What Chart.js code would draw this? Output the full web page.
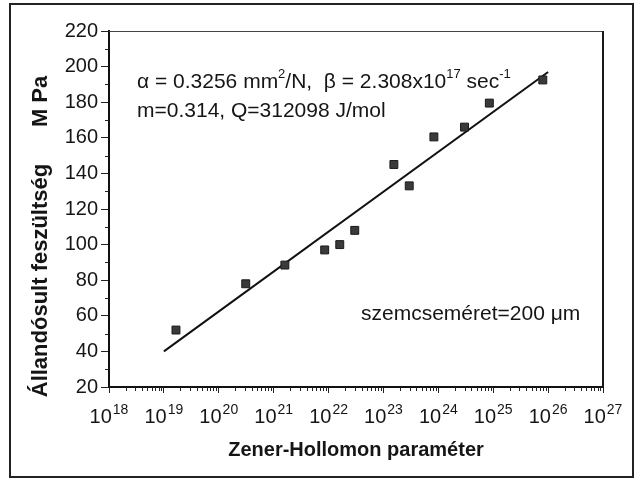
<!DOCTYPE html>
<html><head><meta charset="utf-8">
<script src="https://cdn.jsdelivr.net/npm/chart.js@4/dist/chart.umd.min.js"></script>
<style>html,body{margin:0;padding:0;background:#fff}#wrap{width:635px;height:479px;position:relative}</style>
</head><body><div id="wrap"><canvas id="c" width="635" height="479"></canvas></div>
<script>
// ---- data ----
const zenerHollomon = [1.66e19, 3.1e20, 1.6e21, 8.5e21, 1.6e22, 3.0e22, 1.55e23, 2.95e23, 8.3e23, 3.0e24, 8.5e24, 8.0e25];
const stress        = [52, 78, 88.5, 97, 100, 108, 145, 133, 160.5, 166, 179.5, 192.5];
const fitZ          = [1e19, 1e26];
const fitStress     = [40, 197];
const xExponents    = [18, 19, 20, 21, 22, 23, 24, 25, 26, 27];
const yTicks        = [20, 40, 60, 80, 100, 120, 140, 160, 180, 200, 220];
const yMinorTicks   = [30, 50, 70, 90, 110, 130, 150, 170, 190, 210];
const xTitle = 'Zener-Hollomon paraméter';
const yTitle = 'Állandósult feszültség      M Pa' + '         ';
const noteLine1 = [['α = 0.3256 mm', false], ['2', true], ['/N,  β = 2.308x10', false], ['17', true], [' sec', false], ['-1', true]];
const noteLine2 = 'm=0.314, Q=312098 J/mol';
const noteGrain = 'szemcseméret=200 μm';

const FONT = "'Liberation Sans', Arial, sans-serif";
const INK = '#151515';

const decor = {
  id: 'decor',
  beforeDraw(chart) {
    const ctx = chart.ctx;
    ctx.save();
    ctx.fillStyle = '#fff';
    ctx.fillRect(0, 0, chart.width, chart.height);
    ctx.strokeStyle = '#222';
    ctx.lineWidth = 2;
    ctx.strokeRect(10, 4, 623, 473);
    ctx.restore();
  },
  afterDraw(chart) {
    const ctx = chart.ctx, a = chart.chartArea;
    const xs = chart.scales.x, ys = chart.scales.y;
    ctx.save();
    // box top and right
    ctx.strokeStyle = '#444'; ctx.lineWidth = 1;
    ctx.beginPath(); ctx.moveTo(a.left, a.top + 0.5); ctx.lineTo(a.right, a.top + 0.5); ctx.stroke();
    ctx.strokeStyle = '#1a1a1a'; ctx.lineWidth = 2;
    ctx.beginPath(); ctx.moveTo(a.right, a.top); ctx.lineTo(a.right, a.bottom); ctx.stroke();
    // minor ticks
    ctx.strokeStyle = '#222'; ctx.lineWidth = 1;
    ctx.beginPath();
    for (let i = 0; i < xExponents.length - 1; i++) {
      for (let k = 2; k <= 9; k++) {
        const px = Math.round(xs.getPixelForValue(k * Math.pow(10, xExponents[i]))) + 0.5;
        ctx.moveTo(px, a.bottom); ctx.lineTo(px, a.bottom + 4);
      }
    }
    yMinorTicks.forEach(v => {
      const py = Math.round(ys.getPixelForValue(v)) + 0.5;
      ctx.moveTo(a.left - 4, py); ctx.lineTo(a.left, py);
    });
    ctx.stroke();
    ctx.fillStyle = INK;
    ctx.textBaseline = 'alphabetic';
    ctx.textAlign = 'left';
    // x tick labels: 10 with raised exponent, placed by the log scale
    xs.ticks.forEach(t => {
      const e = String(Math.round(Math.log10(t.value)));
      ctx.font = '20px ' + FONT; const wb = ctx.measureText('10').width;
      ctx.font = '14px ' + FONT; const we = ctx.measureText(e).width;
      const x0 = xs.getPixelForValue(t.value) - (wb + 1 + we) / 2;
      ctx.font = '20px ' + FONT; ctx.fillText('10', x0, 423);
      ctx.font = '14px ' + FONT; ctx.fillText(e, x0 + wb + 1, 414);
    });
    // annotations
    const size = 21;
    let x = 137;
    noteLine1.forEach(([t, sup]) => {
      ctx.font = (sup ? 13 : size) + 'px ' + FONT;
      ctx.fillText(t, x, sup ? 78 : 88);
      x += ctx.measureText(t).width;
    });
    ctx.font = size + 'px ' + FONT;
    ctx.fillText(noteLine2, 137, 117);
    ctx.fillText(noteGrain, 361, 320);
    ctx.restore();
  }
};

new Chart(document.getElementById('c'), {
  type: 'scatter',
  data: {
    datasets: [
      {
        data: zenerHollomon.map((z, i) => ({x: z, y: stress[i]})),
        pointStyle: 'rect', pointRadius: 5.6, backgroundColor: '#3a3a3a', borderColor: '#1a1a1a', borderWidth: 1,
        showLine: false
      },
      {
        data: fitZ.map((z, i) => ({x: z, y: fitStress[i]})),
        showLine: true, pointRadius: 0, borderColor: '#111', borderWidth: 2, fill: false
      }
    ]
  },
  options: {
    responsive: false, devicePixelRatio: 1, animation: false,
    layout: {padding: {left: 12, right: 32, top: 31, bottom: 0}},
    plugins: {legend: {display: false}, tooltip: {enabled: false}},
    scales: {
      x: {
        type: 'logarithmic', min: 1e18, max: 1e27,
        afterBuildTicks: s => { s.ticks = xExponents.map(e => ({value: Math.pow(10, e)})); },
        afterFit: s => { s.height = 92; },
        ticks: {
          autoSkip: false, maxRotation: 0, padding: 6, color: 'rgba(0,0,0,0)',
          font: {family: FONT, size: 20},
          callback: v => '10' + Math.round(Math.log10(v))
        },
        grid: {drawOnChartArea: false, tickLength: 6, color: '#222', tickWidth: 1},
        border: {color: '#111', width: 2},
        title: {display: true, text: xTitle, color: INK, font: {family: FONT, size: 20, weight: 'bold'}, padding: {top: 0, bottom: 17}}
      },
      y: {
        min: 20, max: 220,
        afterBuildTicks: s => { s.ticks = yTicks.map(v => ({value: v})); },
        afterFit: s => { s.width = 97; },
        ticks: {padding: 3, color: INK, font: {family: FONT, size: 20}},
        grid: {drawOnChartArea: false, tickLength: 8, color: '#222', tickWidth: 1},
        border: {color: '#111', width: 2},
        title: {display: true, text: yTitle, color: INK, font: {family: FONT, size: 22, weight: 'bold'}, padding: {top: 16, bottom: 0}}
      }
    }
  },
  plugins: [decor]
});
</script></body></html>
